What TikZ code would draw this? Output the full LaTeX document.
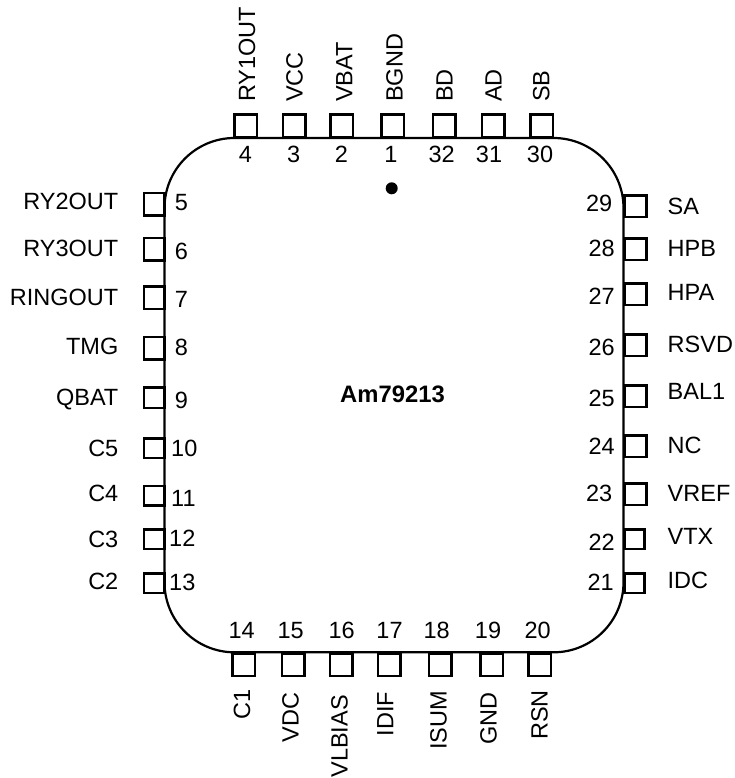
\documentclass[tikz,border=0pt]{standalone}
\usepackage{fontspec}
\setmainfont{Liberation Sans}
\tikzset{
  pad/.style={draw=black,line width=2.5pt,fill=white,rectangle,inner sep=0pt,outer sep=0pt,minimum width=22.5pt,minimum height=22.5pt},
  lab/.style={inner sep=0pt,font=\fontsize{23.5}{26}\selectfont},
  pinnum/.style={inner sep=0pt,font=\fontsize{23.5}{26}\selectfont},
}
\begin{document}
\begin{tikzpicture}[x=1pt,y=-1pt]
\useasboundingbox (0,0) rectangle (735,778);
\draw[line width=2.2pt,rounded corners=70pt] (164.5,138) rectangle (623.5,652.3);
% top
\foreach \n/\x/\bx/\nx/\t in {4/245.5/255/245.3/RY1OUT,3/294/302.7/293.7/VCC,2/341.7/352.3/341.3/VBAT,1/392.8/402.7/391/BGND,32/444/452.7/441.7/BD,31/493.3/501.7/489/AD,30/541.7/549.3/540/SB}{
  \node[pad] (p\n) at (\x,125.8) {};
  \node[lab,rotate=90,anchor=base west] (t\n) at (\bx,102) {\t};
  \node[pinnum,anchor=base] (n\n) at (\nx,162.7) {\n};
}
% bottom
\foreach \n/\x/\bx/\ty/\nx/\t in {14/243.5/250/689/241.7/C1,15/293/298.7/692.7/290.7/VDC,16/341/347.7/695/341.7/VLBIAS,17/389/393.3/691.7/389.5/IDIF,18/440/446.7/691/436.7/ISUM,19/491.5/496.7/692/488/GND,20/539.5/547.7/690/537.7/RSN}{
  \node[pad] (p\n) at (\x,664.5) {};
  \node[lab,rotate=90,anchor=base east] (t\n) at (\bx,\ty) {\t};
  \node[pinnum,anchor=base] (n\n) at (\nx,638.5) {\n};
}
% left
\foreach \n/\y/\h/\by/\ny/\nx/\t in {5/204.2/22.5/209.3/210.7/174.7/RY2OUT,6/249.2/22.5/256.7/259.3/174.7/RY3OUT,7/297.5/22.5/305/307.3/174.7/RINGOUT,8/348/22.5/354.7/355/174.7/TMG,9/397.5/20.5/405.7/408/174.7/QBAT,10/448/19.5/456.7/456/171/C5,11/495.7/19.5/501.7/506.7/171/C4,12/539/19.5/547.3/546.7/169/C3,13/583/19.5/589/590.7/169/C2}{
  \node[pad,minimum width=20.8pt,minimum height=\h pt] (p\n) at (154.3,\y) {};
  \node[lab,anchor=base east] (t\n) at (118.5,\by) {\t};
  \node[pinnum,anchor=base west] (n\n) at (\nx,\ny) {\n};
}
% right
\foreach \n/\y/\px/\pw/\h/\by/\ny/\nx/\t in {29/206.3/635.7/22/21.5/214.3/211.7/612.5/SA,28/249.3/635.7/22/21.5/256/256/615/HPB,27/294.3/635.7/22/21.5/300/304/615/HPA,26/345.3/635.7/22/21.5/352.7/355/615/RSVD,25/396.3/635.7/22/21.5/399.3/406/615/BAL1,24/446.3/635.7/22/21.5/453.3/454/615/NC,23/494/635.7/22/21.5/501.7/501.7/612.5/VREF,22/539/634.5/19.9/19.5/544.3/550/615/VTX,21/583/634.5/19.9/19.5/588.3/590.7/614/IDC}{
  \node[pad,minimum width=\pw pt,minimum height=\h pt] (p\n) at (\px,\y) {};
  \node[lab,anchor=base west] (t\n) at (667.5,\by) {\t};
  \node[pinnum,anchor=base east] (n\n) at (\nx,\ny) {\n};
}
\fill[black] (391.7,188.3) circle (6pt);
\node[inner sep=0pt,font=\fontsize{23.8}{26}\selectfont\bfseries] (chip) at (392.5,394) {Am79213};
\end{tikzpicture}
\end{document}
